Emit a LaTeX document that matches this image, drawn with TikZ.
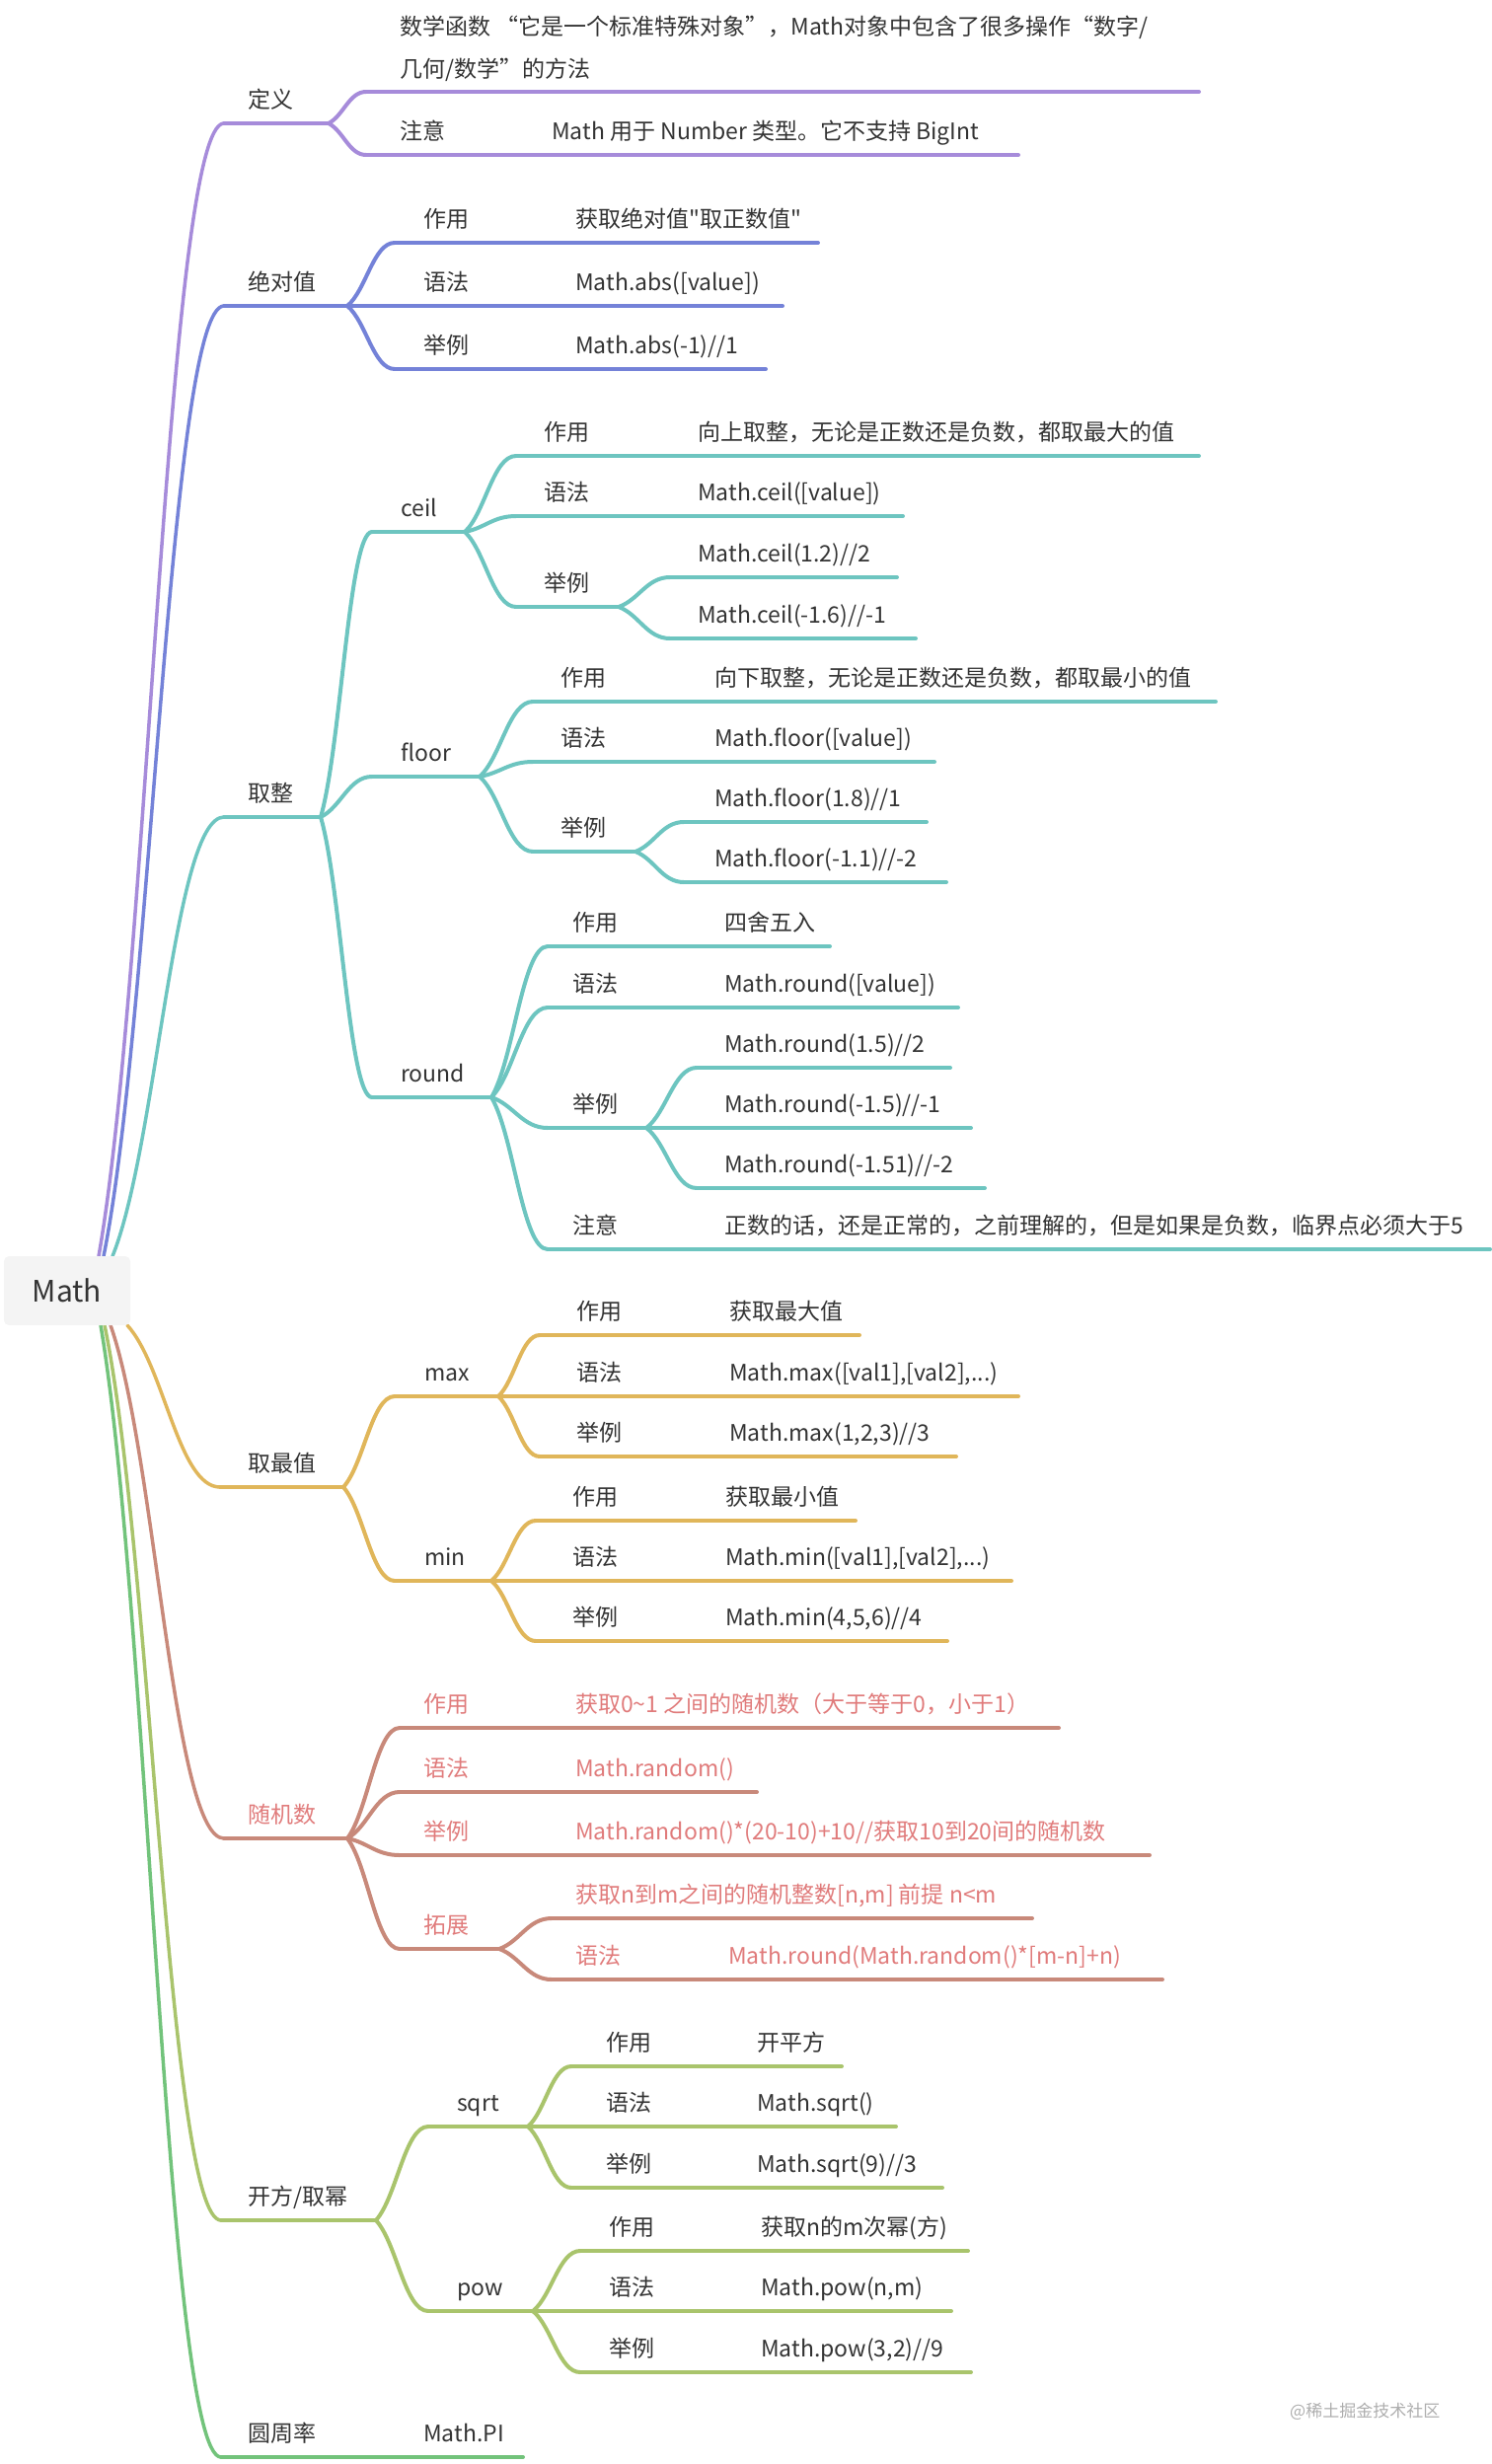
\documentclass[tikz,border=0pt]{standalone}
\usepackage{fontspec}
\setmainfont{Noto Sans CJK SC}
\newfontfamily\rawf{Noto Sans CJK SC}
\usetikzlibrary{calc}
\definecolor{cA}{HTML}{A68BDA}
\definecolor{cB}{HTML}{7482D8}
\definecolor{cC}{HTML}{6DC5C0}
\definecolor{cD}{HTML}{E0B65A}
\definecolor{cE}{HTML}{C8897A}
\definecolor{tE}{HTML}{E07B7B}
\definecolor{cF}{HTML}{A9C46C}
\definecolor{cG}{HTML}{72C37B}
\definecolor{txt}{HTML}{333333}
\definecolor{rootfill}{HTML}{F4F4F4}
\newcommand\fsz{\fontsize{23}{28}\selectfont}
\newcommand\sq{{\rawf "}}
\newcommand\mmseg[5]{%
  \coordinate (#2s) at (#3,#5); \coordinate (#2e) at (#4,#5);
  \draw[ln,#1] (#2s) -- (#2e);}
\newcommand\mmconn[3]{%
  \draw[ln,#1] let \p1=(#2), \p2=(#3) in (\p1) .. controls ({\x1+0.4*(\x2-\x1)},{\y1+0.25*(\y2-\y1)}) and ({\x1+0.55*(\x2-\x1)},{\y2}) .. (\p2);}
\begin{document}
\begin{tikzpicture}[x=1pt,y=-1pt,
  ln/.style={line width=4pt, line cap=round},
  rootln/.style={line width=3.5pt},
  tx/.style={anchor=base west, inner sep=0pt, text=txt, font=\fsz},
  txE/.style={tx, text=tE}]
\useasboundingbox (0,0) rectangle (1512,2497);

% ---------- root connector start points
\coordinate (r1) at (100,1273);
\coordinate (r2) at (105,1273);
\coordinate (r3) at (114,1273);
\coordinate (r4) at (129,1343);
\coordinate (r5) at (112,1343);
\coordinate (r6) at (106,1343);
\coordinate (r7) at (102,1343);

% ================= 定义
\mmseg{cA}{A}{227}{333}{125}
\mmconn{cA,rootln}{r1}{As}
\mmseg{cA}{A1}{371}{1215}{93}
\mmseg{cA}{A2}{371}{1032}{157}
\mmconn{cA}{Ae}{A1s}
\mmconn{cA}{Ae}{A2s}

% ================= 绝对值
\mmseg{cB}{B}{227}{352}{310}
\mmconn{cB,rootln}{r2}{Bs}
\mmseg{cB}{B1}{400}{829}{246}
\mmseg{cB}{B2}{352}{793}{310}
\mmseg{cB}{B3}{400}{776}{374}
\mmconn{cB}{Be}{B1s}
\mmconn{cB}{Be}{B3s}

% ================= 取整
\mmseg{cC}{C}{227}{325}{828}
\mmconn{cC,rootln}{r3}{Cs}
% ceil
\mmseg{cC}{Cc}{377}{471}{539}
\mmconn{cC}{Ce}{Ccs}
\mmseg{cC}{Cc1}{523}{1215}{462}
\mmseg{cC}{Cc2}{523}{915}{523}
\mmseg{cC}{Cc3}{523}{627}{615}
\mmconn{cC}{Cce}{Cc1s}
\mmconn{cC}{Cce}{Cc2s}
\mmconn{cC}{Cce}{Cc3s}
\mmseg{cC}{Cc31}{679}{909}{585}
\mmseg{cC}{Cc32}{679}{928}{647}
\mmconn{cC}{Cc3e}{Cc31s}
\mmconn{cC}{Cc3e}{Cc32s}
% floor
\mmseg{cC}{Cf}{377}{486}{787}
\mmconn{cC}{Ce}{Cfs}
\mmseg{cC}{Cf1}{540}{1232}{711}
\mmseg{cC}{Cf2}{540}{947}{772}
\mmseg{cC}{Cf3}{540}{644}{863}
\mmconn{cC}{Cfe}{Cf1s}
\mmconn{cC}{Cfe}{Cf2s}
\mmconn{cC}{Cfe}{Cf3s}
\mmseg{cC}{Cf31}{693}{939}{833}
\mmseg{cC}{Cf32}{693}{959}{894}
\mmconn{cC}{Cf3e}{Cf31s}
\mmconn{cC}{Cf3e}{Cf32s}
% round
\mmseg{cC}{Cr}{377}{498}{1112}
\mmconn{cC}{Ce}{Crs}
\mmseg{cC}{Cr1}{555}{841}{959}
\mmseg{cC}{Cr2}{555}{971}{1021}
\mmseg{cC}{Cr3}{555}{655}{1143}
\mmseg{cC}{Cr4}{555}{1510}{1266}
\mmconn{cC}{Cre}{Cr1s}
\mmconn{cC}{Cre}{Cr2s}
\mmconn{cC}{Cre}{Cr3s}
\mmconn{cC}{Cre}{Cr4s}
\mmseg{cC}{Cr31}{706}{963}{1082}
\mmseg{cC}{Cr32}{655}{984}{1143}
\mmseg{cC}{Cr33}{706}{998}{1204}
\mmconn{cC}{Cr3e}{Cr31s}
\mmconn{cC}{Cr3e}{Cr33s}

% ================= 取最值
\mmseg{cD}{D}{223}{348}{1507}
\mmconn{cD,rootln}{r4}{Ds}
% max
\mmseg{cD}{Dx}{400}{505}{1415}
\mmconn{cD}{De}{Dxs}
\mmseg{cD}{Dx1}{547}{871}{1353}
\mmseg{cD}{Dx2}{505}{1032}{1415}
\mmseg{cD}{Dx3}{547}{969}{1476}
\mmconn{cD}{Dxe}{Dx1s}
\mmconn{cD}{Dxe}{Dx3s}
% min
\mmseg{cD}{Dn}{400}{498}{1602}
\mmconn{cD}{De}{Dns}
\mmseg{cD}{Dn1}{543}{867}{1541}
\mmseg{cD}{Dn2}{498}{1025}{1602}
\mmseg{cD}{Dn3}{543}{960}{1663}
\mmconn{cD}{Dne}{Dn1s}
\mmconn{cD}{Dne}{Dn3s}

% ================= 随机数
\mmseg{cE}{E}{227}{352}{1863}
\mmconn{cE,rootln}{r5}{Es}
\mmseg{cE}{E1}{405}{1073}{1751}
\mmseg{cE}{E2}{405}{767}{1816}
\mmseg{cE}{E3}{405}{1165}{1880}
\mmseg{cE}{E4}{405}{506}{1975}
\mmconn{cE}{Ee}{E1s}
\mmconn{cE}{Ee}{E2s}
\mmconn{cE}{Ee}{E3s}
\mmconn{cE}{Ee}{E4s}
\mmseg{cE}{E41}{559}{1046}{1944}
\mmseg{cE}{E42}{559}{1178}{2006}
\mmconn{cE}{E4e}{E41s}
\mmconn{cE}{E4e}{E42s}

% ================= 开方/取幂
\mmseg{cF}{F}{224}{381}{2250}
\mmconn{cF,rootln}{r6}{Fs}
% sqrt
\mmseg{cF}{Fs}{434}{535}{2155}
\mmconn{cF}{Fe}{Fss}
\mmseg{cF}{Fs1}{579}{853}{2094}
\mmseg{cF}{Fs2}{535}{908}{2155}
\mmseg{cF}{Fs3}{579}{955}{2217}
\mmconn{cF}{Fse}{Fs1s}
\mmconn{cF}{Fse}{Fs3s}
% pow
\mmseg{cF}{Fp}{434}{540}{2342}
\mmconn{cF}{Fe}{Fps}
\mmseg{cF}{Fp1}{588}{981}{2281}
\mmseg{cF}{Fp2}{540}{964}{2342}
\mmseg{cF}{Fp3}{588}{984}{2404}
\mmconn{cF}{Fpe}{Fp1s}
\mmconn{cF}{Fpe}{Fp3s}

% ================= 圆周率
\mmseg{cG}{G}{224}{530}{2490}
\mmconn{cG,rootln}{r7}{Gs}

% ================= texts
\node[tx] (tA) at (251,109) {定义};
\node[tx] (tA1a) at (405,36) {数学函数 “它是一个标准特殊对象”，Math对象中包含了很多操作“数字/};
\node[tx] (tA1b) at (405,78) {几何/数学”的方法};
\node[tx] (tA2) at (405,141) {注意};
\node[tx] (tA2v) at (559,141) {Math 用于 Number 类型。它不支持 BigInt};

\node[tx] (tB) at (251,294) {绝对值};
\node[tx] (tB1) at (429,230) {作用};
\node[tx] (tB1v) at (583,230) {获取绝对值\sq 取正数值\sq};
\node[tx] (tB2) at (429,294) {语法};
\node[tx] (tB2v) at (583,294) {Math.abs([value])};
\node[tx] (tB3) at (429,358) {举例};
\node[tx] (tB3v) at (583,358) {Math.abs(-1)//1};

\node[tx] (tC) at (251,812) {取整};
\node[tx] (tCc) at (406,523) {ceil};
\node[tx] (tCc1) at (551,446) {作用};
\node[tx] (tCc1v) at (707,446) {向上取整，无论是正数还是负数，都取最大的值};
\node[tx] (tCc2) at (551,507) {语法};
\node[tx] (tCc2v) at (707,507) {Math.ceil([value])};
\node[tx] (tCc3) at (551,599) {举例};
\node[tx] (tCc31) at (707,569) {Math.ceil(1.2)//2};
\node[tx] (tCc32) at (707,631) {Math.ceil(-1.6)//-1};
\node[tx] (tCf) at (406,771) {floor};
\node[tx] (tCf1) at (568,695) {作用};
\node[tx] (tCf1v) at (724,695) {向下取整，无论是正数还是负数，都取最小的值};
\node[tx] (tCf2) at (568,756) {语法};
\node[tx] (tCf2v) at (724,756) {Math.floor([value])};
\node[tx] (tCf3) at (568,847) {举例};
\node[tx] (tCf31) at (724,817) {Math.floor(1.8)//1};
\node[tx] (tCf32) at (724,878) {Math.floor(-1.1)//-2};
\node[tx] (tCr) at (406,1096) {round};
\node[tx] (tCr1) at (580,943) {作用};
\node[tx] (tCr1v) at (734,943) {四舍五入};
\node[tx] (tCr2) at (580,1005) {语法};
\node[tx] (tCr2v) at (734,1005) {Math.round([value])};
\node[tx] (tCr3) at (580,1127) {举例};
\node[tx] (tCr31) at (734,1066) {Math.round(1.5)//2};
\node[tx] (tCr32) at (734,1127) {Math.round(-1.5)//-1};
\node[tx] (tCr33) at (734,1188) {Math.round(-1.51)//-2};
\node[tx] (tCr4) at (580,1250) {注意};
\node[tx] (tCr4v) at (734,1250) {正数的话，还是正常的，之前理解的，但是如果是负数，临界点必须大于5};

\node[tx] (tD) at (251,1491) {取最值};
\node[tx] (tDx) at (430,1399) {max};
\node[tx] (tDx1) at (584,1337) {作用};
\node[tx] (tDx1v) at (739,1337) {获取最大值};
\node[tx] (tDx2) at (584,1399) {语法};
\node[tx] (tDx2v) at (739,1399) {Math.max([val1],[val2],...)};
\node[tx] (tDx3) at (584,1460) {举例};
\node[tx] (tDx3v) at (739,1460) {Math.max(1,2,3)//3};
\node[tx] (tDn) at (430,1586) {min};
\node[tx] (tDn1) at (580,1525) {作用};
\node[tx] (tDn1v) at (735,1525) {获取最小值};
\node[tx] (tDn2) at (580,1586) {语法};
\node[tx] (tDn2v) at (735,1586) {Math.min([val1],[val2],...)};
\node[tx] (tDn3) at (580,1647) {举例};
\node[tx] (tDn3v) at (735,1647) {Math.min(4,5,6)//4};

\node[txE] (tE) at (251,1847) {随机数};
\node[txE] (tE1) at (429,1735) {作用};
\node[txE] (tE1v) at (583,1735) {获取0\textasciitilde1 之间的随机数（大于等于0，小于1）};
\node[txE] (tE2) at (429,1800) {语法};
\node[txE] (tE2v) at (583,1800) {Math.random()};
\node[txE] (tE3) at (429,1864) {举例};
\node[txE] (tE3v) at (583,1864) {Math.random()*(20-10)+10//获取10到20间的随机数};
\node[txE] (tE4) at (429,1959) {拓展};
\node[txE] (tE41) at (583,1928) {获取n到m之间的随机整数[n,m] 前提 n<m};
\node[txE] (tE42) at (583,1990) {语法};
\node[txE] (tE42v) at (738,1990) {Math.round(Math.random()*[m-n]+n)};

\node[tx] (tF) at (251,2234) {开方/取幂};
\node[tx] (tFs) at (463,2139) {sqrt};
\node[tx] (tFs1) at (614,2078) {作用};
\node[tx] (tFs1v) at (767,2078) {开平方};
\node[tx] (tFs2) at (614,2139) {语法};
\node[tx] (tFs2v) at (767,2139) {Math.sqrt()};
\node[tx] (tFs3) at (614,2201) {举例};
\node[tx] (tFs3v) at (767,2201) {Math.sqrt(9)//3};
\node[tx] (tFp) at (463,2326) {pow};
\node[tx] (tFp1) at (617,2265) {作用};
\node[tx] (tFp1v) at (771,2265) {获取n的m次幂(方)};
\node[tx] (tFp2) at (617,2326) {语法};
\node[tx] (tFp2v) at (771,2326) {Math.pow(n,m)};
\node[tx] (tFp3) at (617,2388) {举例};
\node[tx] (tFp3v) at (771,2388) {Math.pow(3,2)//9};

\node[tx] (tG) at (251,2474) {圆周率};
\node[tx] (tGv) at (429,2474) {Math.PI};

\node[anchor=base west, inner sep=0pt, text=black!32, font=\fontsize{17}{20}\selectfont] (wm) at (1307,2449) {@稀土掘金技术社区};

% root
\node[fill=rootfill, rounded corners=5pt, minimum width=128pt, minimum height=70pt, inner sep=0pt, text=txt, font=\fontsize{30}{36}\selectfont] (root) at (68,1308) {Math};
\end{tikzpicture}
\end{document}
